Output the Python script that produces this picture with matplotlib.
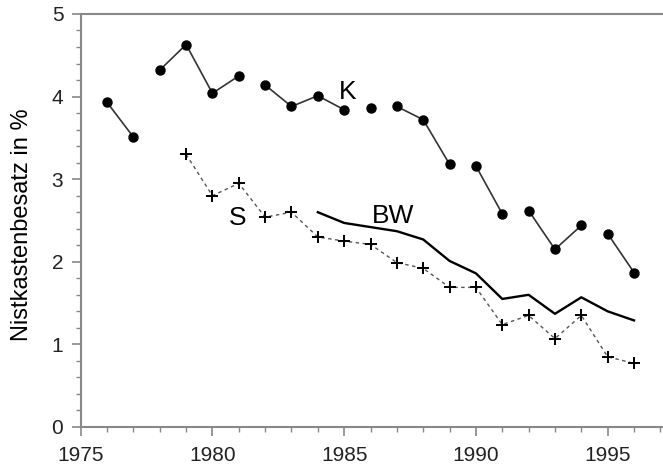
import numpy as np
import matplotlib
matplotlib.use("Agg")
import matplotlib.pyplot as plt
from matplotlib.ticker import MultipleLocator

plt.rcParams['font.family'] = ['Liberation Sans', 'DejaVu Sans']

# K: Kohlmeise-Reihe, Punkte mit Luecken zwischen den Gruppen
k_years = [1976, 1977, 1978, 1979, 1980, 1981, 1982, 1983, 1984, 1985, 1986,
           1987, 1988, 1989, 1990, 1991, 1992, 1993, 1994, 1995, 1996]
k_vals = [3.93, 3.51, 4.32, 4.63, 4.04, 4.25, 4.14, 3.88, 4.01, 3.84, 3.86,
          3.88, 3.72, 3.18, 3.16, 2.58, 2.62, 2.15, 2.44, 2.34, 1.87]
k_groups = [0, 0, 1, 1, 1, 1, 2, 2, 2, 2, 3, 4, 4, 4, 5, 5, 6, 6, 6, 7, 7]

# S: Kreuze, gestrichelt
s_years = [1979, 1980, 1981, 1982, 1983, 1984, 1985, 1986, 1987, 1988, 1989,
           1990, 1991, 1992, 1993, 1994, 1995, 1996]
s_vals = [3.30, 2.80, 2.95, 2.54, 2.60, 2.30, 2.25, 2.21, 1.99, 1.92, 1.69,
          1.69, 1.24, 1.35, 1.07, 1.35, 0.85, 0.77]

# BW: durchgezogene Linie
bw_years = [1984, 1985, 1986, 1987, 1988, 1989, 1990, 1991, 1992, 1993, 1994,
            1995, 1996]
bw_vals = [2.60, 2.47, 2.42, 2.37, 2.27, 2.01, 1.86, 1.55, 1.60, 1.37, 1.57,
           1.40, 1.29]

fig = plt.figure(figsize=(6.63, 4.75), dpi=100)
ax = fig.add_axes([0.1217, 0.1011, 0.8783, 0.8695])

# K in Gruppen zeichnen
k_years = np.array(k_years)
k_vals = np.array(k_vals)
k_groups = np.array(k_groups)
for g in np.unique(k_groups):
    m = k_groups == g
    ax.plot(k_years[m], k_vals[m], color='#333333', lw=1.2,
            marker='o', ms=6.5, mfc='black', mec='black')

ax.plot(s_years, s_vals, color='#555555', lw=1.0, ls=(0, (2.5, 2.5)),
        marker='+', ms=8, mew=1.4, mec='black')
ax.plot(bw_years, bw_vals, color='black', lw=1.7)

ax.text(1985.14, 3.97, 'K', fontsize=19, ha='center', va='baseline')
ax.text(1980.97, 2.44, 'S', fontsize=19, ha='center', va='baseline')
ax.text(1986.85, 2.47, 'BW', fontsize=19, ha='center', va='baseline')

ax.set_xlim(1975, 1997.1)
ax.set_ylim(0, 5)
ax.xaxis.set_major_locator(MultipleLocator(5))
ax.xaxis.set_minor_locator(MultipleLocator(1))
ax.yaxis.set_major_locator(MultipleLocator(1))
ax.yaxis.set_minor_locator(MultipleLocator(0.2))

for side in ['left', 'bottom', 'top']:
    ax.spines[side].set_color('#888888')
    ax.spines[side].set_linewidth(1.5)
ax.spines['right'].set_visible(False)

ax.tick_params(which='major', direction='out', length=6.5, width=1.2,
               color='#888888', labelsize=15, labelcolor='#222222')
ax.tick_params(which='minor', direction='out', length=3.5, width=1.0,
               color='#888888')
ax.tick_params(axis='x', which='major', pad=7)
ax.tick_params(axis='y', which='major', pad=6)

ax.set_ylabel('Nistkastenbesatz in %', fontsize=17)
ax.yaxis.set_label_coords(-0.082, 0.49)

fig.savefig('out.png', dpi=100)
